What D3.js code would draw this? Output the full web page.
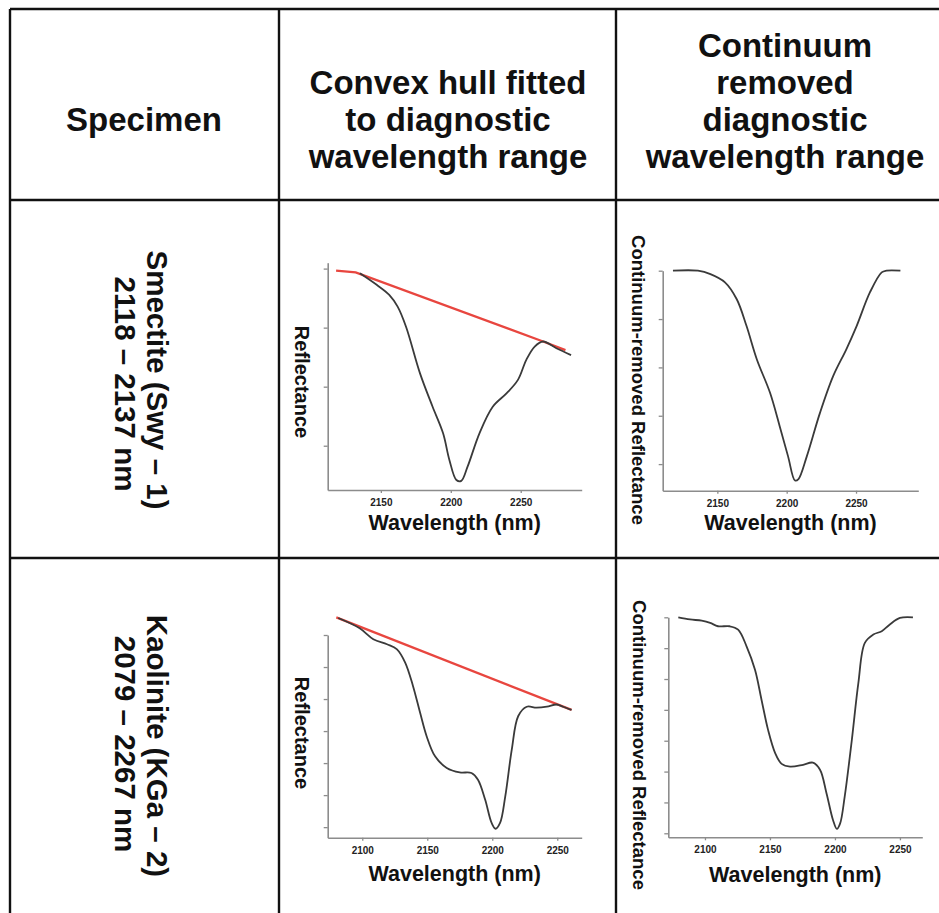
<!DOCTYPE html>
<html>
<head>
<meta charset="utf-8">
<script src="https://cdn.jsdelivr.net/npm/d3@7"></script>
<style>
  body { margin: 0; background: #fff; }
  svg { display: block; font-family: "Liberation Sans", Arial, sans-serif; }
</style>
</head>
<body>
<div id="chart"></div>
<script>
const width = 939;
const height = 913;

// header and row texts
const headerSpecimen = ["Specimen"];
const headerHull = ["Convex hull fitted", "to diagnostic", "wavelength range"];
const headerRemoved = ["Continuum", "removed", "diagnostic", "wavelength range"];
const smectiteLabel = ["Smectite (Swy – 1)", "2118 – 2137 nm"];
const kaoliniteLabel = ["Kaolinite (KGa – 2)", "2079 – 2267 nm"];

// [wavelength (nm), reflectance]
const smectiteSpectrum = [[2135, 0.784], [2147, 0.745], [2156, 0.711], [2162, 0.671], [2168, 0.603],
    [2178, 0.445], [2187, 0.332], [2194.5, 0.242], [2199, 0.152], [2204, 0.084], [2207.5, 0.081],
    [2212, 0.129], [2220.5, 0.242], [2230, 0.332], [2240, 0.378], [2248, 0.423], [2254, 0.491],
    [2260, 0.536], [2266, 0.553], [2275.5, 0.530], [2286, 0.507]];
const smectiteHull = [[2118, 0.793], [2132, 0.787], [2266, 0.553], [2282, 0.524]];
const smectiteRemoved = [[2118, 1.0], [2136, 1.0], [2145, 0.986], [2155.5, 0.952], [2164, 0.882],
    [2171, 0.772], [2178.5, 0.633], [2188, 0.495], [2195, 0.356], [2201, 0.232], [2206, 0.132],
    [2208.5, 0.138], [2214.5, 0.232], [2224, 0.412], [2233.5, 0.564], [2243, 0.675], [2250.5, 0.772],
    [2260, 0.910], [2268.5, 0.993], [2272, 1.0], [2282, 1.0]];

const kaoliniteSpectrum = [[2081.5, 0.753], [2098, 0.721], [2108.5, 0.687], [2119, 0.671], [2126.5, 0.656],
    [2133, 0.614], [2139, 0.541], [2144.5, 0.457], [2149.5, 0.384], [2156, 0.321], [2165, 0.285],
    [2175, 0.271], [2184, 0.269], [2189, 0.248], [2194.5, 0.186], [2199.5, 0.113], [2202.5, 0.095],
    [2206, 0.113], [2210, 0.196], [2215, 0.342], [2220, 0.447], [2226.5, 0.476], [2234, 0.473],
    [2242, 0.476], [2249.5, 0.483], [2254.5, 0.476], [2261, 0.466]];
const kaoliniteHull = [[2080, 0.755], [2261, 0.466]];
const kaoliniteRemoved = [[2079.5, 1.0], [2088.5, 0.993], [2097.5, 0.989], [2104, 0.982], [2110, 0.971],
    [2119, 0.971], [2125.5, 0.960], [2132, 0.906], [2138.5, 0.830], [2143.5, 0.733], [2148.5, 0.636],
    [2154, 0.560], [2159, 0.525], [2165.5, 0.516], [2175.5, 0.522], [2183, 0.529], [2188.5, 0.506],
    [2193.5, 0.430], [2198.5, 0.343], [2201.5, 0.314], [2204, 0.332], [2207.5, 0.419], [2213, 0.603],
    [2218, 0.787], [2223, 0.917], [2229.5, 0.944], [2236, 0.955], [2242, 0.976], [2250, 0.998], [2260, 1.0]];

const smectiteXTicks = [2150, 2200, 2250];
const kaoliniteXTicks = [2100, 2150, 2200, 2250];
const smectiteHullYTicks = [0.2, 0.4, 0.6, 0.8];
const smectiteRemovedYTicks = [0.2, 0.4, 0.6, 0.8, 1.0];
const kaoliniteHullYTicks = [0.1, 0.2, 0.3, 0.4, 0.5, 0.6, 0.7];
const kaoliniteRemovedYTicks = [0.3, 0.4, 0.5, 0.6, 0.7, 0.8, 0.9, 1.0];

const svg = d3.select("#chart")
    .append("svg")
    .attr("width", width)
    .attr("height", height);

svg.append("rect").attr("width", width).attr("height", height).attr("fill", "#fff");

// table grid
const colX = [10, 279, 616];
const rowY = [9, 200, 558];
const grid = svg.append("g").attr("stroke", "#111").attr("stroke-width", 2.4);
colX.forEach(x => grid.append("line").attr("x1", x).attr("x2", x).attr("y1", rowY[0]).attr("y2", height));
rowY.forEach(y => grid.append("line").attr("x1", colX[0]).attr("x2", width).attr("y1", y).attr("y2", y));

// header text
function headerBlock(lines, cx, firstBaseline) {
    const t = svg.append("text")
        .attr("text-anchor", "middle")
        .attr("font-weight", "bold")
        .attr("font-size", 33)
        .attr("fill", "#111");
    lines.forEach((s, i) => t.append("tspan").attr("x", cx).attr("y", firstBaseline + i * 37).text(s));
}
headerBlock(headerSpecimen, 144, 131);
headerBlock(headerHull, 448, 94);
headerBlock(headerRemoved, 785, 57);

// row labels, rotated to read top to bottom
function rowLabel(lines, cy) {
    const baselines = [147, 115];
    lines.forEach((s, i) => {
        svg.append("text")
            .attr("transform", `translate(${baselines[i]},${cy[i]}) rotate(90)`)
            .attr("text-anchor", "middle")
            .attr("font-weight", "bold")
            .attr("font-size", 29.5)
            .attr("fill", "#111")
            .text(s);
    });
}
rowLabel(smectiteLabel, [380, 384]);
rowLabel(kaoliniteLabel, [746, 744]);

const panels = [
    { spectrum: smectiteSpectrum, hull: smectiteHull, xDomain: [2112, 2293.6], yDomain: [0.05, 0.82],
      xTicks: smectiteXTicks, yTicks: smectiteHullYTicks, yLabel: "Reflectance", yLabelSize: 20,
      left: 327.7, right: 581.7, top: 262.7, bottom: 490, labelX: 295, labelY: 382, titleY: 530 },
    { spectrum: smectiteRemoved, xDomain: [2110.6, 2294.9], yDomain: [0.09, 1.0],
      xTicks: smectiteXTicks, yTicks: smectiteRemovedYTicks, yLabel: "Continuum-removed Reflectance", yLabelSize: 18.5,
      left: 662.7, right: 918.3, top: 270.7, bottom: 490.7, labelX: 632, labelY: 380, titleY: 530 },
    { spectrum: kaoliniteSpectrum, hull: kaoliniteHull, xDomain: [2073.4, 2268.8], yDomain: [0.067, 0.7],
      xTicks: kaoliniteXTicks, yTicks: kaoliniteHullYTicks, yLabel: "Reflectance", yLabelSize: 20,
      left: 327.7, right: 581.7, top: 635, bottom: 837.7, labelX: 295, labelY: 733, titleY: 881 },
    { spectrum: kaoliniteRemoved, xDomain: [2071.8, 2267.2], yDomain: [0.287, 1.0],
      xTicks: kaoliniteXTicks, yTicks: kaoliniteRemovedYTicks, yLabel: "Continuum-removed Reflectance", yLabelSize: 18.5,
      left: 668.3, right: 922.3, top: 617.3, bottom: 837.3, labelX: 633, labelY: 745, titleY: 882 }
];

panels.forEach(p => {
    const x = d3.scaleLinear().domain(p.xDomain).range([p.left, p.right]);
    const y = d3.scaleLinear().domain(p.yDomain).range([p.bottom, p.top]);
    const g = svg.append("g");

    const xAxis = g.append("g")
        .attr("transform", `translate(0,${p.bottom})`)
        .call(d3.axisBottom(x).tickValues(p.xTicks).tickSize(3).tickSizeOuter(0).tickFormat(d3.format("d")));
    const yAxis = g.append("g")
        .attr("transform", `translate(${p.left},0)`)
        .call(d3.axisLeft(y).tickValues(p.yTicks).tickSize(4).tickSizeOuter(0).tickFormat(""));

    [xAxis, yAxis].forEach(a => {
        a.select(".domain").attr("stroke", "#8c8c8c").attr("stroke-width", 1.6);
        a.selectAll(".tick line").attr("stroke", "#8c8c8c").attr("stroke-width", 1.3);
    });
    xAxis.selectAll(".tick text")
        .attr("y", 9)
        .attr("font-family", "'Liberation Sans', Arial, sans-serif")
        .attr("font-size", 10)
        .attr("font-weight", "bold")
        .attr("fill", "#222");

    const line = d3.line()
        .x(d => x(d[0]))
        .y(d => y(d[1]))
        .curve(d3.curveCatmullRom.alpha(0.5));

    if (p.hull) {
        g.append("path")
            .datum(p.hull)
            .attr("fill", "none")
            .attr("stroke", "#e8463f")
            .attr("stroke-width", 2.3)
            .attr("d", d3.line().x(d => x(d[0])).y(d => y(d[1])));
    }
    g.append("path")
        .datum(p.spectrum)
        .attr("fill", "none")
        .attr("stroke", "#3a3a3a")
        .attr("stroke-width", 1.8)
        .attr("stroke-linejoin", "round")
        .attr("d", line);

    g.append("text")
        .attr("transform", `translate(${p.labelX},${p.labelY}) rotate(90)`)
        .attr("text-anchor", "middle")
        .attr("font-weight", "bold")
        .attr("font-size", p.yLabelSize)
        .attr("fill", "#111")
        .text(p.yLabel);

    g.append("text")
        .attr("x", (p.left + p.right) / 2)
        .attr("y", p.titleY)
        .attr("text-anchor", "middle")
        .attr("font-weight", "bold")
        .attr("font-size", 21.5)
        .attr("fill", "#111")
        .text("Wavelength (nm)");
});
</script>
</body>
</html>
